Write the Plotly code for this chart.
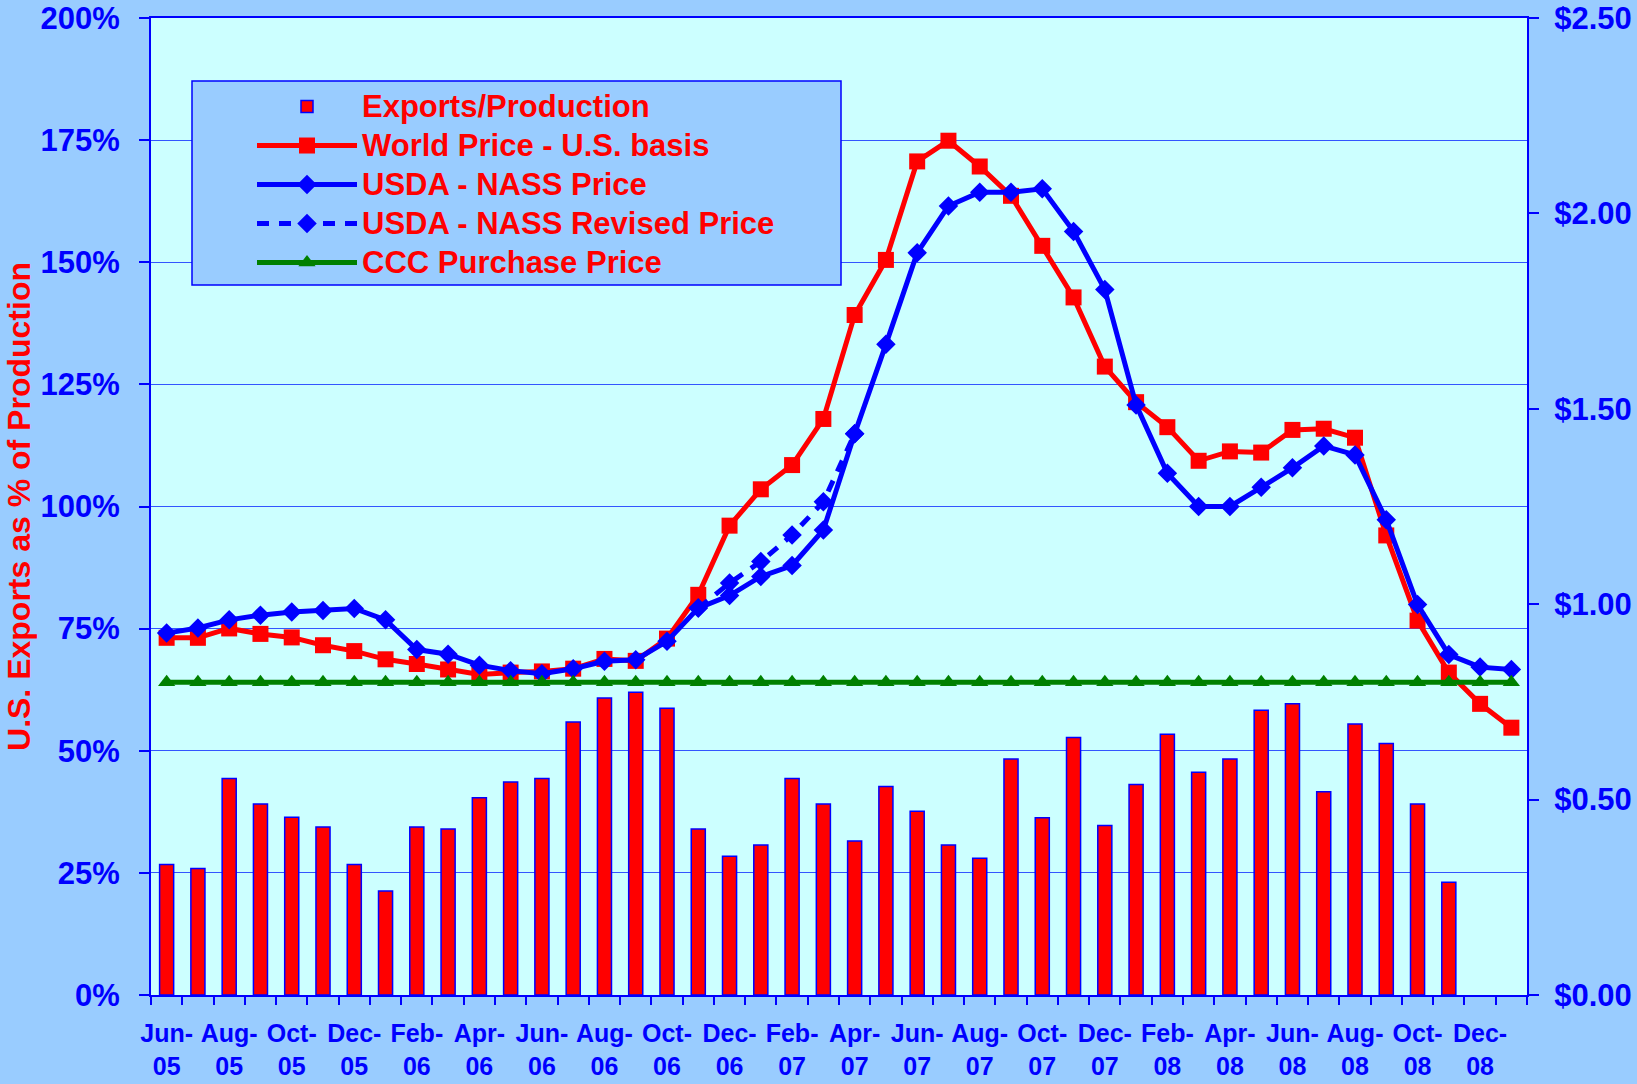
import plotly.graph_objects as go

months = ["Jun-05", "Jul-05", "Aug-05", "Sep-05", "Oct-05", "Nov-05", "Dec-05",
          "Jan-06", "Feb-06", "Mar-06", "Apr-06", "May-06", "Jun-06", "Jul-06",
          "Aug-06", "Sep-06", "Oct-06", "Nov-06", "Dec-06", "Jan-07", "Feb-07",
          "Mar-07", "Apr-07", "May-07", "Jun-07", "Jul-07", "Aug-07", "Sep-07",
          "Oct-07", "Nov-07", "Dec-07", "Jan-08", "Feb-08", "Mar-08", "Apr-08",
          "May-08", "Jun-08", "Jul-08", "Aug-08", "Sep-08", "Oct-08", "Nov-08",
          "Dec-08", "Jan-09"]

# Exports as % of production (left axis)
exports_pct = [26.7, 25.9, 44.3, 39.1, 36.4, 34.4, 26.7, 21.3, 34.4, 34.0,
               40.4, 43.6, 44.3, 55.9, 60.8, 62.0, 58.7, 34.0, 28.4, 30.7,
               44.3, 39.1, 31.5, 42.7, 37.6, 30.7, 28.0, 48.3, 36.3, 52.7,
               34.7, 43.1, 53.4, 45.6, 48.3, 58.3, 59.6, 41.6, 55.5, 51.5,
               39.1, 23.1, None, None]

# Prices, $ (right axis)
world_price = [0.914, 0.914, 0.938, 0.924, 0.915, 0.895, 0.880, 0.859, 0.847, 0.833,
               0.820, 0.825, 0.828, 0.835, 0.860, 0.855, 0.912, 1.024, 1.201, 1.294,
               1.356, 1.474, 1.740, 1.881, 2.133, 2.186, 2.120, 2.045, 1.917, 1.785,
               1.608, 1.517, 1.453, 1.367, 1.391, 1.388, 1.446, 1.449, 1.426, 1.176,
               0.958, 0.825, 0.745, 0.684]

nass_price = [0.926, 0.939, 0.960, 0.972, 0.980, 0.984, 0.989, 0.960, 0.884, 0.872,
              0.844, 0.830, 0.822, 0.835, 0.854, 0.858, 0.905, 0.990, 1.022, 1.071,
              1.099, 1.190, 1.436, 1.665, 1.899, 2.019, 2.054, 2.054, 2.063, 1.954,
              1.805, 1.510, 1.335, 1.250, 1.250, 1.299, 1.349, 1.405, 1.382, 1.216,
              0.999, 0.871, 0.839, 0.833]

nass_revised = [None, None, None, None, None, None, None, None, None, None,
                None, None, None, None, None, None, None, 0.990, 1.054, 1.109,
                1.177, 1.262, 1.436, None, None, None, None, None, None, None,
                None, None, None, None, None, None, None, None, None, None,
                None, None, None, None]

ccc_price = [0.80, 0.80, 0.80, 0.80, 0.80, 0.80, 0.80, 0.80, 0.80, 0.80,
             0.80, 0.80, 0.80, 0.80, 0.80, 0.80, 0.80, 0.80, 0.80, 0.80,
             0.80, 0.80, 0.80, 0.80, 0.80, 0.80, 0.80, 0.80, 0.80, 0.80,
             0.80, 0.80, 0.80, 0.80, 0.80, 0.80, 0.80, 0.80, 0.80, 0.80,
             0.80, 0.80, 0.80, 0.80]

left_tickvals = [0, 25, 50, 75, 100, 125, 150, 175, 200]
left_ticktext = ["0%", "25%", "50%", "75%", "100%", "125%", "150%", "175%", "200%"]
right_tickvals = [0.0, 0.5, 1.0, 1.5, 2.0, 2.5]
right_ticktext = ["$0.00", "$0.50", "$1.00", "$1.50", "$2.00", "$2.50"]

series_names = ["Exports/Production", "World Price - U.S. basis", "USDA - NASS Price",
                "USDA - NASS Revised Price", "CCC Purchase Price"]

tick_text = [(m.replace("-", "-<br>") if i % 2 == 0 else "") for i, m in enumerate(months)]

FONT = "Liberation Sans, Arial, sans-serif"
BLUE = "#0000FF"
RED = "#FF0000"
GREEN = "#008000"

# plot area in pixels (for converting the legend box to paper coords)
L, R, T, B, W, H = 151, 110, 18, 89, 1637, 1084
PW, PH = W - L - R, H - T - B


def px_x(v):
    return (v - L) / PW


def px_y(v):
    return (H - B - v) / PH


def leg(name):
    # legend entries drawn a bit larger than the row-spacing font
    return '<span style="font-size:31px">' + name + '</span>'


fig = go.Figure()

fig.add_trace(go.Bar(
    x=months, y=exports_pct, name=leg(series_names[0]),
    marker=dict(color=RED, line=dict(color=BLUE, width=1.5)),
    width=0.45, yaxis="y", legendrank=1))

fig.add_trace(go.Scatter(
    x=months, y=world_price, name=leg(series_names[1]), yaxis="y2",
    mode="lines+markers", line=dict(color=RED, width=5),
    marker=dict(symbol="square", size=16, color=RED), legendrank=2))

fig.add_trace(go.Scatter(
    x=months, y=nass_revised, name=leg(series_names[3]), yaxis="y2",
    mode="lines+markers", line=dict(color=BLUE, width=5, dash="12px,10px"),
    marker=dict(symbol="diamond", size=15, color=BLUE), legendrank=4))

fig.add_trace(go.Scatter(
    x=months, y=nass_price, name=leg(series_names[2]), yaxis="y2",
    mode="lines+markers", line=dict(color=BLUE, width=5),
    marker=dict(symbol="diamond", size=15, color=BLUE), legendrank=3))

fig.add_trace(go.Scatter(
    x=months, y=ccc_price, name=leg(series_names[4]), yaxis="y2",
    mode="lines+markers", line=dict(color=GREEN, width=5),
    marker=dict(symbol="triangle-up", size=15, color=GREEN), legendrank=5))

fig.update_layout(
    width=W, height=H,
    paper_bgcolor="#99CCFF", plot_bgcolor="#CCFFFF",
    margin=dict(l=L, r=R, t=T, b=B, autoexpand=False),
    font=dict(family=FONT, color=BLUE),
    showlegend=True,
    legend=dict(
        x=px_x(252), y=px_y(82), xanchor="left", yanchor="top",
        bgcolor="rgba(0,0,0,0)", borderwidth=0,
        font=dict(family=FONT, size=27.7, color=RED, weight="bold"),
        traceorder="normal", itemwidth=100, tracegroupgap=0,
    ),
    shapes=[dict(
        type="rect", xref="paper", yref="paper", layer="above",
        x0=px_x(192), x1=px_x(841), y0=px_y(285), y1=px_y(81),
        fillcolor="#99CCFF", line=dict(color=BLUE, width=1.5),
    )],
    xaxis=dict(
        type="category", range=[-0.5, len(months) - 0.5], automargin=False,
        tickmode="array", tickvals=months, ticktext=tick_text,
        tickson="boundaries", ticks="outside", ticklen=8, tickwidth=2, tickcolor=BLUE,
        tickfont=dict(family=FONT, size=25, color=BLUE, weight="bold"),
        tickangle=0, ticklabelstandoff=15,
        showline=True, linecolor=BLUE, linewidth=2, mirror=True,
        showgrid=False, zeroline=False,
    ),
    yaxis=dict(
        range=[0, 200], automargin=False,
        tickmode="array", tickvals=left_tickvals, ticktext=left_ticktext,
        ticks="outside", ticklen=10, tickwidth=1.5, tickcolor=BLUE,
        tickfont=dict(family=FONT, size=31, color=BLUE, weight="bold"),
        ticklabelstandoff=13, ticklabeloverflow="allow",
        showline=True, linecolor=BLUE, linewidth=2,
        showgrid=True, gridcolor="#3355FF", gridwidth=1, zeroline=False,
        title=dict(text="U.S. Exports as % of Production", standoff=0,
                   font=dict(family=FONT, size=32, color=RED, weight="bold")),
    ),
    yaxis2=dict(
        range=[0, 2.5], overlaying="y", side="right", anchor="x", automargin=False,
        tickmode="array", tickvals=right_tickvals, ticktext=right_ticktext,
        ticks="outside", ticklen=10, tickwidth=1.5, tickcolor=BLUE,
        tickfont=dict(family=FONT, size=31, color=BLUE, weight="bold"),
        ticklabelstandoff=9, ticklabeloverflow="allow",
        showline=True, linecolor=BLUE, linewidth=2,
        showgrid=False, zeroline=False,
    ),
)

fig.write_html("out.html", config={"displayModeBar": False},
               post_script="document.body.style.margin='0';document.body.style.overflow='hidden';")
